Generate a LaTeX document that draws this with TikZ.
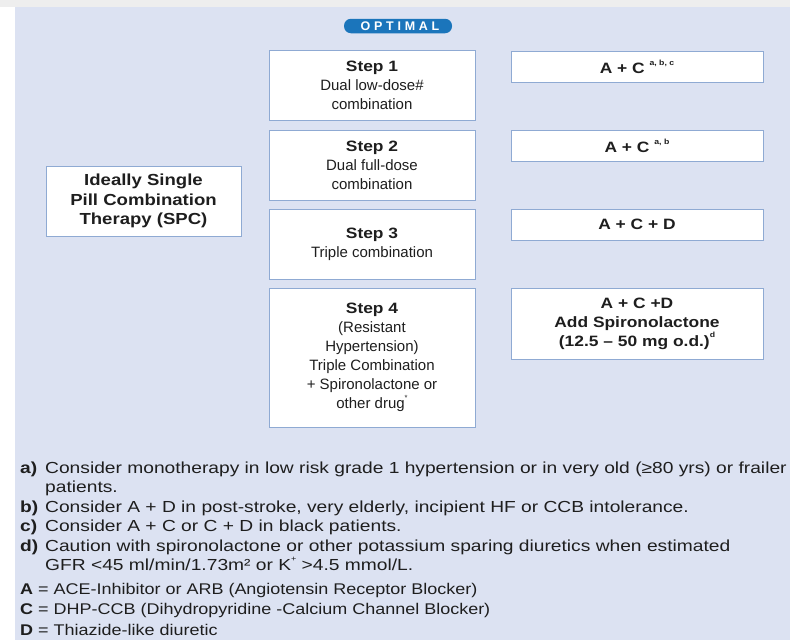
\documentclass[tikz,border=0pt]{standalone}
\usepackage{fontspec}
\setmainfont{Liberation Sans}[BoldFeatures={FakeStretch=1.16}]
\newfontfamily\notefont{Liberation Sans}[FakeStretch=1.2]
\newfontfamily\abbrfont{Liberation Sans}[FakeStretch=1.16]
\newfontfamily\pillfont{Liberation Sans}[LetterSpace=30]

\definecolor{pagebg}{HTML}{DCE2F2}
\definecolor{edgegrey}{HTML}{EEEEEE}
\definecolor{boxline}{HTML}{8FAAD3}
\definecolor{pillblue}{HTML}{1B75BB}
\definecolor{inkgrey}{HTML}{1E1E1E}

\newcommand{\supnote}[1]{\raisebox{0.55em}{\fontsize{7.5}{7.5}\selectfont #1}}

\begin{document}
\begin{tikzpicture}[x=1pt,y=-1pt,
    stepbox/.style={draw=boxline, line width=1pt, fill=white, text=inkgrey,
        minimum width=206pt, minimum height=70pt, inner sep=0pt, align=center,
        font=\fontsize{15}{19}\selectfont},
    drugbox/.style={stepbox, minimum width=252pt, minimum height=31pt,
        font=\bfseries\fontsize{15}{19}\selectfont},
    notelabel/.style={anchor=base west, inner sep=0pt, text=inkgrey,
        font=\notefont\bfseries\fontsize{16}{19}\selectfont},
    notetext/.style={anchor=base west, inner sep=0pt, text=inkgrey,
        font=\notefont\fontsize{16}{19}\selectfont},
    abbrtext/.style={notetext, font=\abbrfont\fontsize{15.5}{19}\selectfont}]
    \useasboundingbox (0,0) rectangle (790,640);

    % Background
    \fill[white] (0,0) rectangle (790,640);
    \fill[edgegrey] (0,0) rectangle (790,7);
    \fill[pagebg] (15,7) rectangle (790,640);

    % Header
    \node[fill=pillblue, rounded corners=7pt, minimum width=108pt, minimum height=14.5pt,
        inner sep=0pt, text=white, font=\pillfont\bfseries\fontsize{12.5}{12.5}\selectfont]
        (optimal) at (398,26) {\hspace{4pt}OPTIMAL};

    % Left box
    \node[stepbox, minimum width=195pt, font=\bfseries\fontsize{16}{19.5}\selectfont]
        (spc) at (143.5,201) {Ideally Single\\Pill Combination\\Therapy (SPC)};

    % Steps
    \node[stepbox] (step1) at (372,85.5) {\textbf{Step 1}\\Dual low-dose\#\\combination};
    \node[stepbox] (step2) at (372,165) {\textbf{Step 2}\\Dual full-dose\\combination};
    \node[stepbox] (step3) at (372,244) {\textbf{Step 3}\\Triple combination};
    \node[stepbox, minimum height=139pt] (step4) at (372,357.5)
        {\textbf{Step 4}\\(Resistant\\Hypertension)\\Triple Combination\\+ Spironolactone or\\other drug\supnote{*}};

    % Drug combinations
    \node[drugbox] (drug1) at (637,66.5) {A + C \supnote{a, b, c}};
    \node[drugbox] (drug2) at (637,145.5) {A + C \supnote{a, b}};
    \node[drugbox] (drug3) at (637,224.5) {A + C + D};
    \node[drugbox, minimum height=71pt] (drug4) at (637,323.5)
        {A + C +D\\Add Spironolactone\\(12.5 – 50 mg o.d.)\supnote{d}};

    % Footnotes
    \node[notelabel] (lbl-a) at (20,473) {a)};
    \node[notetext] (note-a) at (45,473) {Consider monotherapy in low risk grade 1 hypertension or in very old (≥80 yrs) or frailer};
    \node[notetext] (note-a2) at (45,492.5) {patients.};
    \node[notelabel] (lbl-b) at (20,512) {b)};
    \node[notetext] (note-b) at (45,512) {Consider A + D in post-stroke, very elderly, incipient HF or CCB intolerance.};
    \node[notelabel] (lbl-c) at (20,531.5) {c)};
    \node[notetext] (note-c) at (45,531.5) {Consider A + C or C + D in black patients.};
    \node[notelabel] (lbl-d) at (20,551) {d)};
    \node[notetext] (note-d) at (45,551) {Caution with spironolactone or other potassium sparing diuretics when estimated};
    \node[notetext] (note-d2) at (45,570.5) {GFR <45 ml/min/1.73m² or K\supnote{+} >4.5 mmol/L.};

    % Abbreviations
    \node[abbrtext] (abbr-a) at (20,594) {\textbf{A} = ACE-Inhibitor or ARB (Angiotensin Receptor Blocker)};
    \node[abbrtext] (abbr-c) at (20,614) {\textbf{C} = DHP-CCB (Dihydropyridine -Calcium Channel Blocker)};
    \node[abbrtext] (abbr-d) at (20,635) {\textbf{D} = Thiazide-like diuretic};
\end{tikzpicture}
\end{document}
